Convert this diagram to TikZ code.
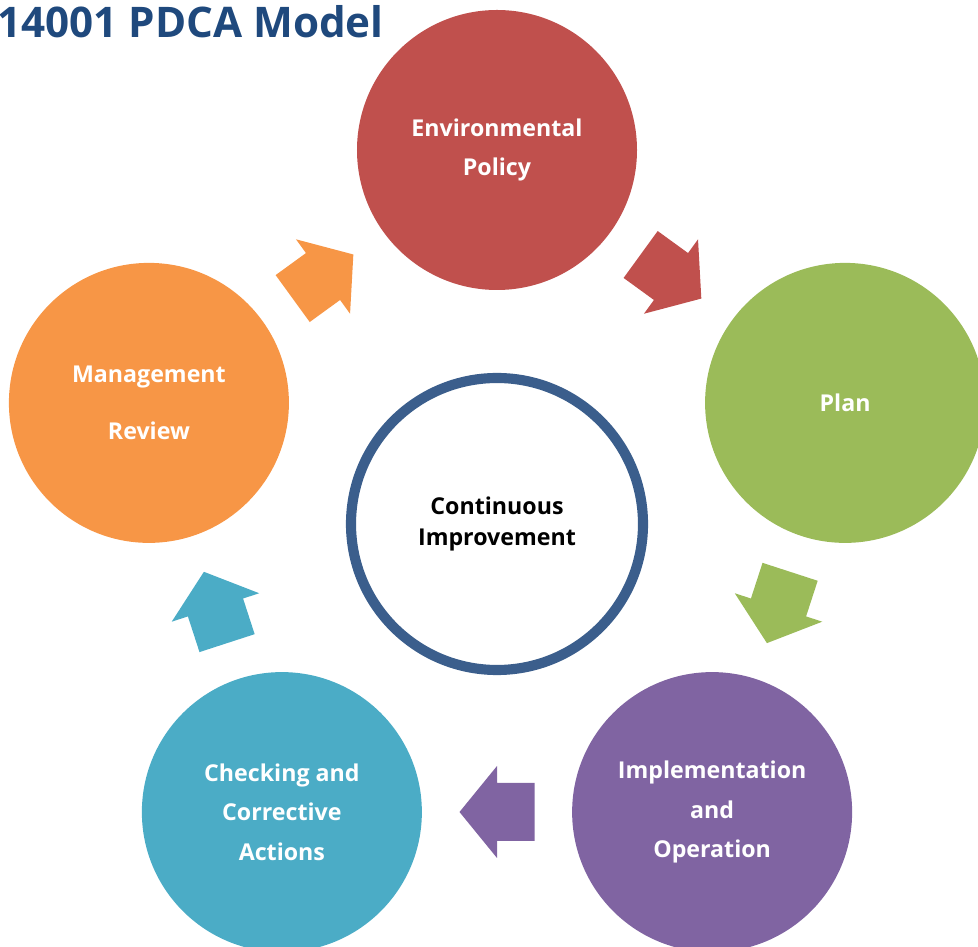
\documentclass[tikz,border=0pt]{standalone}
\usepackage{fontspec}
\setmainfont{Open Sans}
\usepackage{tikz}

\definecolor{policy}{HTML}{C0504D}
\definecolor{plan}{HTML}{9BBB59}
\definecolor{impl}{HTML}{8064A2}
\definecolor{check}{HTML}{4BACC6}
\definecolor{mgmt}{HTML}{F79646}
\definecolor{ring}{HTML}{3B5E8C}
\definecolor{title}{HTML}{1F497D}

\tikzset{
  stage/.style={circle, minimum size=70mm, inner sep=0pt, text=white, align=center,
    font=\bfseries\fontsize{16.5}{28}\selectfont},
  core/.style={circle, draw=ring, line width=7.2pt, fill=white, minimum size=73mm, inner sep=0pt,
    align=center, font=\bfseries\fontsize{16.5}{21.5}\selectfont}
}

\begin{document}
\begin{tikzpicture}[x=0.25mm, y=0.25mm]
  \useasboundingbox (0,0) rectangle (978,947);
  \node[anchor=base west, inner sep=0pt, text=title, font=\bfseries\fontsize{30}{36}\selectfont]
    (head) at (-3,909) {14001 PDCA Model};

  \begin{scope}[shift={(497,431)}]
    % the five stages round the pentagon
    \node[stage, fill=policy] (s1) at (90:366) {Environmental\\Policy};
    \node[stage, fill=plan]   (s2) at (18:366) {Plan};
    \node[stage, fill=impl]   (s3) at (-54:366) {Implementation\\and\\Operation};
    \node[stage, fill=check]  (s4) at (234:366) {Checking and\\Corrective\\Actions};
    \node[stage, fill=mgmt]   (s5) at (162:366) {Management\\[12pt]Review};
    \node[core] (c) at (0,-8) {Continuous\\Improvement};

    % block arrows between neighbouring stages
    \foreach \ang/\col in {54/policy, -18/plan, -90/impl, 198/check, 126/mgmt} {
      \fill[\col, shift={(\ang:296)}, rotate=\ang-90]
        (37.5,0) -- (0,46) -- (0,29) -- (-37.5,29) -- (-37.5,-29) -- (0,-29) -- (0,-46) -- cycle;
    }
  \end{scope}
\end{tikzpicture}
\end{document}
